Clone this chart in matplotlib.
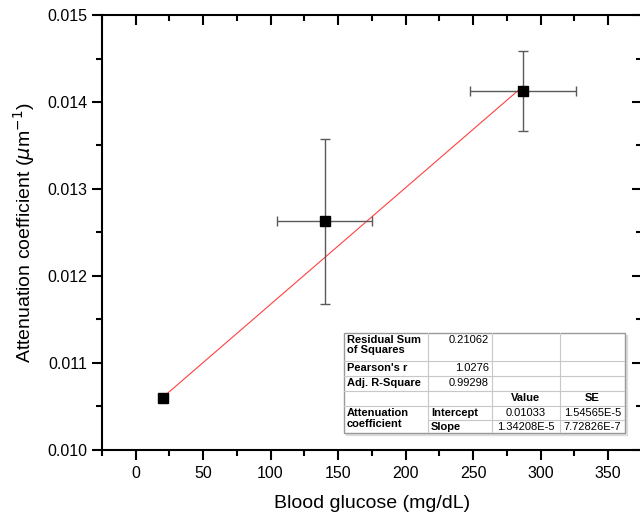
import numpy as np
import matplotlib
matplotlib.use('Agg')
from matplotlib import pyplot as plt
from matplotlib.ticker import MultipleLocator

plt.rcParams['font.family'] = ['Liberation Sans', 'DejaVu Sans']

# data
glucose = [20, 140, 287]
glucose_err = [0, 35, 39]
atten = [0.01059, 0.01263, 0.01413]
atten_err = [0, 0.00095, 0.00046]

# linear fit results (from the table)
intercept = 0.01033
slope = 1.34208e-5
fit_x = [20, 287]

table_rows = [
    ['Residual Sum\nof Squares', '0.21062', '', ''],
    ["Pearson's r", '1.0276', '', ''],
    ['Adj. R-Square', '0.99298', '', ''],
    ['', '', 'Value', 'SE'],
    ['Attenuation\ncoefficient', 'Intercept', '0.01033', '1.54565E-5'],
    ['', 'Slope', '1.34208E-5', '7.72826E-7'],
]

fig = plt.figure(figsize=(6.4, 5.21), dpi=100)
ax = fig.add_axes([0.159, 0.137, 0.844, 0.834])

# fit line
fx = np.array(fit_x)
ax.plot(fx, intercept + slope * fx, color='#ff4040', lw=0.8, zorder=2)

# points with error bars
ax.errorbar(glucose, atten, xerr=glucose_err, yerr=atten_err, fmt='none',
            ecolor='#5a5a5a', elinewidth=1, capsize=3.5, capthick=1, zorder=3)
ax.plot(glucose, atten, 's', color='black', ms=7, zorder=4)

ax.set_xlim(-25, 375)
ax.set_ylim(0.010, 0.015)
ax.xaxis.set_major_locator(MultipleLocator(50))
ax.xaxis.set_minor_locator(MultipleLocator(25))
ax.yaxis.set_major_locator(MultipleLocator(0.001))
ax.yaxis.set_minor_locator(MultipleLocator(0.0005))
ax.yaxis.set_major_formatter(matplotlib.ticker.FormatStrFormatter('%.3f'))

for s in ax.spines.values():
    s.set_linewidth(1.5)

ax.tick_params(which='both', direction='out', top=True, right=True, width=1.5, labelsize=11.5)
ax.tick_params(which='major', length=7)
ax.tick_params(which='minor', length=4)
ax.tick_params(axis='x', which='both', pad=5)
# top and right ticks point inward
for t in ax.xaxis.get_major_ticks() + ax.xaxis.get_minor_ticks():
    t.tick2line.set_marker(matplotlib.lines.TICKDOWN)
for t in ax.yaxis.get_major_ticks() + ax.yaxis.get_minor_ticks():
    t.tick2line.set_marker(matplotlib.lines.TICKLEFT)

ax.set_xlabel('Blood glucose (mg/dL)', fontsize=14, labelpad=10)
ax.set_ylabel(r'Attenuation coefficient ($\mu$m$^{-1}$)', fontsize=14, labelpad=7)

# fit result table
tab = fig.add_axes([0.5375, 0.168, 0.439, 0.1925])
tab.set_xlim(0, 281)
tab.set_ylim(100, 0)
tab.axis('off')
cols = [0, 84, 148, 216, 281]
rows = [0, 28, 43, 58, 73, 87, 100]
tab.add_patch(plt.Rectangle((2, 2), 281, 100, color='#dddddd', clip_on=False, zorder=0))
tab.add_patch(plt.Rectangle((0, 0), 281, 100, facecolor='white', edgecolor='#999999',
                            lw=1, clip_on=False, zorder=1))
for c in cols[1:-1]:
    tab.plot([c, c], [0, 100], color='#c8c8c8', lw=0.8, zorder=2)
for r in rows[1:-1]:
    if r == 87:
        tab.plot([84, 281], [r, r], color='#c8c8c8', lw=0.8, zorder=2)
    else:
        tab.plot([0, 281], [r, r], color='#c8c8c8', lw=0.8, zorder=2)

fs = 8
for i, row in enumerate(table_rows):
    y0 = rows[i]
    for j, txt in enumerate(row):
        if not txt:
            continue
        bold = (j == 0) or (i == 3) or (i >= 4 and j == 1)
        weight = 'bold' if bold else 'normal'
        if j == 0:
            tab.text(cols[0] + 3, y0 + 1.5, txt, ha='left', va='top', fontsize=fs,
                     weight=weight, linespacing=1.1)
        elif j == 1 and i < 3:
            tab.text(cols[2] - 3, y0 + 1.5, txt, ha='right', va='top', fontsize=fs,
                     weight=weight)
        elif j == 1:
            tab.text(cols[1] + 3, y0 + 1.5, txt, ha='left', va='top', fontsize=fs,
                     weight=weight)
        else:
            tab.text((cols[j] + cols[j + 1]) / 2, y0 + 1.5, txt, ha='center', va='top',
                     fontsize=fs, weight=weight)

fig.savefig('out.png', dpi=100)
